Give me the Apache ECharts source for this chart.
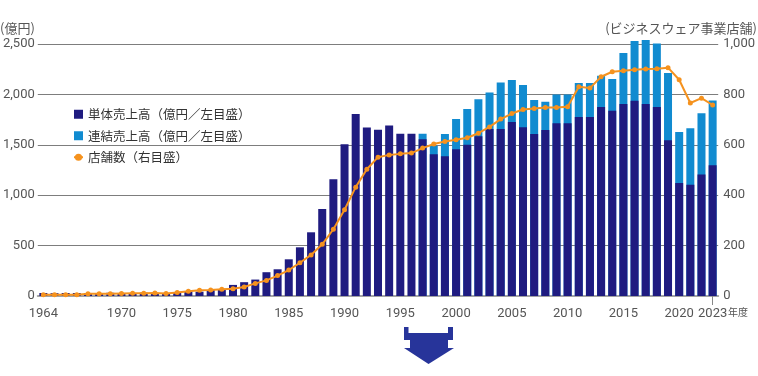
<!DOCTYPE html>
<html>
<head>
<meta charset="utf-8">
<script src="https://cdn.jsdelivr.net/npm/echarts@6/dist/echarts.min.js"></script>
<style>
html,body{margin:0;padding:0;background:#fff;}
#chart{width:758px;height:376px;}
</style>
</head>
<body>
<div id="chart"></div>
<script>
// Fiscal periods (the first year has two periods in the reference)
const periods = ['1964a','1964b','1965','1966','1967','1968','1969','1970','1971','1972','1973','1974','1975','1976','1977','1978','1979',
  '1980','1981','1982','1983','1984','1985','1986','1987','1988','1989','1990','1991','1992','1993','1994','1995','1996','1997','1998','1999',
  '2000','2001','2002','2003','2004','2005','2006','2007','2008','2009','2010','2011','2012','2013','2014','2015','2016','2017','2018','2019',
  '2020','2021','2022','2023'];
const xTickLabels = ['1964','1970','1975','1980','1985','1990','1995','2000','2005','2010','2015','2020','2023'];

// 単体売上高（億円）
const standaloneSales = [30,28,30,30,30,30,32,30,30,33,27,30,40,50,43,60,60,
  110,137,163,236,265,364,483,632,864,1159,1505,1805,1672,1649,1692,1609,1609,1556,1407,1387,
  1457,1500,1586,1656,1656,1725,1675,1606,1646,1715,1715,1775,1775,1874,1838,1904,1937,1904,1874,1546,
  1122,1103,1205,1298];

// 連結売上高（億円）
const consolidatedSales = [null,null,null,null,null,null,null,null,null,null,null,null,null,null,null,null,null,
  null,null,null,null,null,null,null,null,null,null,null,null,null,null,null,null,null,1609,1490,1606,
  1755,1854,1953,2020,2119,2142,2093,1944,1927,2000,2000,2112,2112,2185,2152,2410,2530,2540,2506,2212,
  1626,1665,1814,1940];

// 店舗数（ビジネスウェア事業）
const storeCount = [5,5,5,5,9,9,9,10,11,11,12,10,14,19,23,24,27,
  29,36,50,62,81,103,132,163,205,265,342,432,503,551,560,564,567,587,603,613,
  620,628,646,671,702,724,740,744,748,748,751,830,825,870,890,894,898,901,902,906,
  858,766,785,758];

const leftTicks = [0,500,1000,1500,2000,2500];
const rightTicks = [0,200,400,600,800,1000];

const numFont = "'Liberation Sans Narrow','Arial Narrow','Roboto',sans-serif";
const jpFont = "'Noto Sans CJK JP','Noto Sans',sans-serif";
const DARK = '#1f1b80';
const LIGHT = '#118bd0';
const ORANGE = '#f5921e';

const stripPeriod = v => String(v).replace(/[ab]$/,'');
const showLabel = (idx, value) => value !== '1964b' && xTickLabels.indexOf(stripPeriod(value)) >= 0;

const chart = echarts.init(document.getElementById('chart'), null, {renderer:'canvas'});
chart.setOption({
  animation:false,
  backgroundColor:'#fff',
  grid:{left:32,right:35,top:44,bottom:80,containLabel:false},
  legend:{
    orient:'vertical', left:68, top:103, itemWidth:9, itemHeight:9, itemGap:9,
    data:[{name:'単体売上高（億円／左目盛）',icon:'rect'},{name:'連結売上高（億円／左目盛）',icon:'rect'},{name:'店舗数（右目盛）'}],
    textStyle:{fontFamily:jpFont,fontSize:12.5,color:'#333'}
  },
  xAxis:{
    type:'category', data:periods,
    axisLine:{lineStyle:{color:'#a3a3a3',width:2}},
    axisTick:{show:true,alignWithLabel:true,length:9,interval:(i)=>i===periods.length-1,lineStyle:{color:'#888'}},
    axisLabel:{interval:showLabel, formatter:(v)=>stripPeriod(v), fontFamily:numFont, fontSize:13, color:'#555', margin:11}
  },
  yAxis:[
    {type:'value',min:leftTicks[0],max:leftTicks[leftTicks.length-1],interval:500,
     axisLine:{show:false},axisTick:{show:false},
     splitLine:{lineStyle:{color:'#7d7d7d',width:1}},
     axisLabel:{margin:3,fontFamily:numFont,fontSize:13,color:'#555',formatter:(v)=>v.toLocaleString('en-US')}},
    {type:'value',min:rightTicks[0],max:rightTicks[rightTicks.length-1],interval:200,
     axisLine:{show:false},axisTick:{show:false},splitLine:{show:false},
     axisLabel:{margin:5,fontFamily:numFont,fontSize:13,color:'#555',formatter:(v)=>v.toLocaleString('en-US')}}
  ],
  series:[
    {name:'連結売上高（億円／左目盛）',type:'bar',data:consolidatedSales,barWidth:8,barGap:'-100%',z:2,clip:false,
     itemStyle:{color:LIGHT}},
    {name:'単体売上高（億円／左目盛）',type:'bar',data:standaloneSales,barWidth:8,barGap:'-100%',z:3,clip:false,
     itemStyle:{color:DARK}},
    {name:'店舗数（右目盛）',type:'line',yAxisIndex:1,data:storeCount,z:5,
     symbol:'circle',symbolSize:5,lineStyle:{color:ORANGE,width:2},itemStyle:{color:ORANGE}}
  ],
  graphic:[
    {type:'text',left:0,top:22,style:{text:'(億円)',fontFamily:'Noto Sans CJK JP',fontSize:13,fill:'#555'}},
    {type:'text',right:1,top:22,style:{text:'(ビジネスウェア事業店舗)',fontFamily:'Noto Sans CJK JP',fontSize:13,fill:'#555'}},
    {type:'text',left:728,top:307,style:{text:'年度',fontFamily:'Noto Sans CJK JP',fontSize:10,fill:'#555'}},
    {type:'polygon',shape:{points:[[404,327],[408.5,327],[408.5,333],[448,333],[448,327],[453,327],[453,340],[448,340],[448,348],[454,348],[428.5,364],[404,348],[410,348],[410,340],[404,340]]},
     style:{fill:'#27349a'}}
  ]
});
</script>
</body>
</html>
